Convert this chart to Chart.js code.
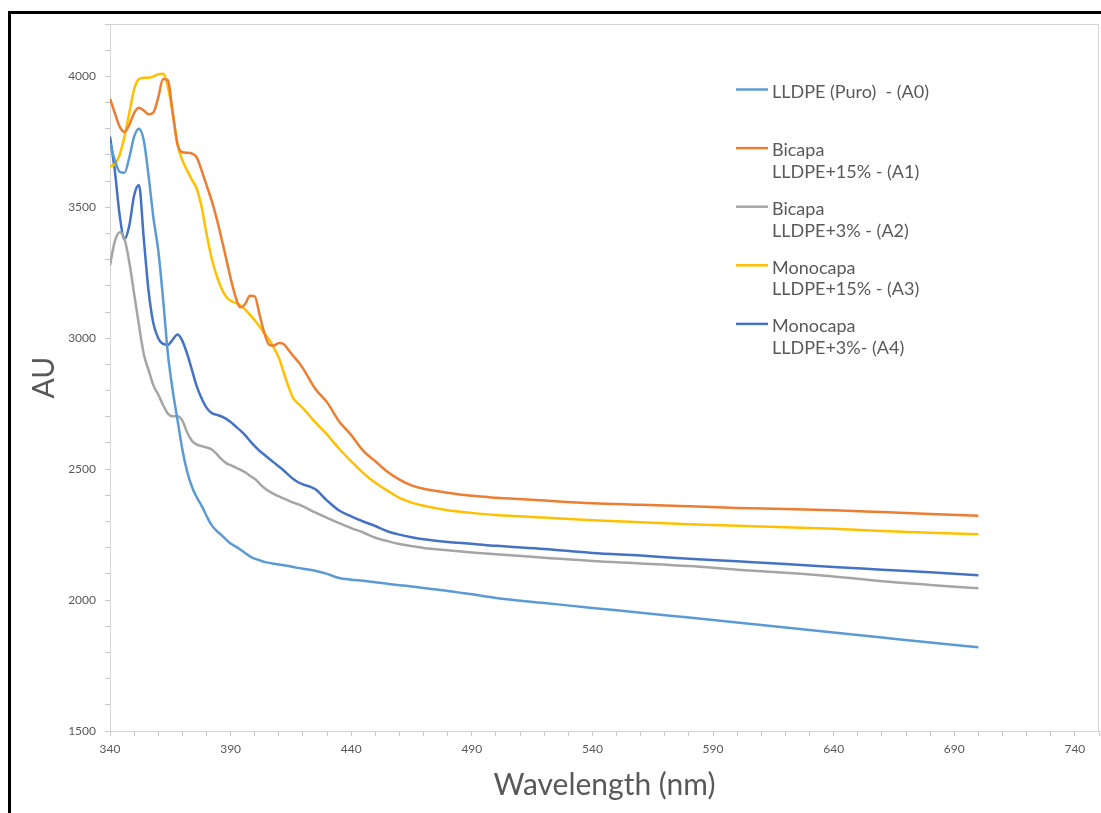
<!DOCTYPE html>
<html>
<head>
<meta charset="utf-8">
<script src="https://cdn.jsdelivr.net/npm/chart.js@4.4.1/dist/chart.umd.min.js"></script>
<style>
    html, body { margin: 0; padding: 0; background: #fff; overflow: hidden; }
    #frame {
        position: absolute; left: 8px; top: 11px; width: 3000px; height: 3000px;
        border-top: 3px solid #000; border-left: 3px solid #000;
    }
    #chart { position: absolute; left: 0; top: 0; }
</style>
</head>
<body>
<div id="frame"></div>
<canvas id="chart" width="1101" height="813"></canvas>
<script>
const wavelengths = [
    340, 342, 344, 346, 348, 350, 352, 354, 356, 358,
    360, 362, 364, 366, 368, 370, 372, 374, 376, 378,
    380, 382, 384, 386, 388, 390, 392, 394, 396, 398,
    400, 402, 404, 406, 408, 410, 412, 414, 416, 418,
    420, 425, 430, 435, 440, 445, 450, 455, 460, 465,
    470, 480, 490, 500, 520, 540, 560, 580, 600, 620,
    640, 660, 680, 700
];

// LLDPE (Puro) - (A0)
const a0 = [
    3745, 3680, 3635, 3632, 3690, 3770, 3800, 3755, 3620, 3460,
    3336, 3150, 2940, 2800, 2687, 2575, 2490, 2432, 2392, 2360,
    2322, 2288, 2266, 2250, 2232, 2216, 2205, 2193, 2180, 2167,
    2158, 2152, 2146, 2142, 2139, 2136, 2133, 2130, 2126, 2123,
    2120, 2112, 2100, 2084, 2078, 2074, 2068, 2062, 2057, 2052,
    2046, 2035, 2022, 2008, 1989, 1970, 1952, 1933, 1914, 1895,
    1876, 1857, 1838, 1820
];

// Bicapa LLDPE+15% - (A1)
const a1 = [
    3915, 3860, 3808, 3788, 3815, 3860, 3880, 3870, 3855, 3862,
    3920, 3990, 3985, 3860, 3740, 3710, 3708, 3705, 3690, 3640,
    3585, 3530, 3465, 3390, 3310, 3230, 3160, 3118, 3130, 3162,
    3160, 3090, 3020, 2975, 2972, 2982, 2978, 2955, 2932, 2910,
    2885, 2808, 2755, 2682, 2630, 2570, 2530, 2490, 2460, 2438,
    2425, 2410, 2398, 2391, 2380, 2370, 2364, 2358, 2352, 2348,
    2343, 2336, 2329, 2322
];

// Bicapa LLDPE+3% - (A2)
const a2 = [
    3279, 3370, 3405, 3380, 3290, 3170, 3050, 2940, 2878, 2820,
    2785, 2745, 2712, 2702, 2702, 2685, 2640, 2608, 2594, 2588,
    2583, 2576, 2560, 2540, 2524, 2515, 2507, 2498, 2488, 2475,
    2463, 2445, 2428, 2415, 2405, 2396, 2388, 2380, 2372, 2366,
    2358, 2335, 2314, 2294, 2275, 2258, 2238, 2225, 2214, 2206,
    2199, 2190, 2182, 2175, 2162, 2149, 2140, 2130, 2116, 2104,
    2090, 2072, 2058, 2045
];

// Monocapa LLDPE+15% - (A3)
const a3 = [
    3656, 3665, 3700, 3770, 3860, 3950, 3990, 3995, 3995, 4000,
    4008, 4010, 3960, 3860, 3740, 3680, 3640, 3605, 3570, 3500,
    3400, 3310, 3245, 3195, 3160, 3143, 3135, 3126, 3110, 3090,
    3068, 3045, 3018, 2995, 2962, 2925, 2870, 2815, 2770, 2750,
    2732, 2680, 2632, 2578, 2530, 2485, 2448, 2418, 2390, 2372,
    2360, 2343, 2333, 2325, 2315, 2305, 2297, 2290, 2284, 2278,
    2272, 2264, 2257, 2251
];

// Monocapa LLDPE+3%- (A4)
const a4 = [
    3770, 3640, 3470, 3378, 3430, 3545, 3585, 3380, 3180, 3056,
    3000, 2978, 2975, 2995, 3014, 2990, 2940, 2878, 2815, 2770,
    2735, 2715, 2708, 2702, 2693, 2680, 2664, 2648, 2630, 2608,
    2588, 2570, 2555, 2540, 2525, 2510, 2495, 2478, 2462, 2450,
    2442, 2424, 2380, 2342, 2320, 2300, 2283, 2263, 2250, 2240,
    2232, 2222, 2215, 2207, 2195, 2180, 2170, 2158, 2148, 2138,
    2126, 2116, 2106, 2095
];

const seriesLabels = [
    ['LLDPE (Puro)  - (A0)'],
    ['Bicapa', 'LLDPE+15% - (A1)'],
    ['Bicapa', 'LLDPE+3% - (A2)'],
    ['Monocapa', 'LLDPE+15% - (A3)'],
    ['Monocapa', 'LLDPE+3%- (A4)']
];
const seriesColors = ['#5B9BD5', '#ED7D31', '#A5A5A5', '#FFC000', '#4472C4'];
const allSeries = [a0, a1, a2, a3, a4];

const textColor = '#595959';
const axisColor = '#C8C8C8';
const uiFont = 'Lato, "Open Sans", sans-serif';

// gray box round the plot area, like the Excel plot border
const plotBorder = {
    id: 'plotBorder',
    beforeDatasetsDraw(chart) {
        const { ctx, chartArea } = chart;
        ctx.save();
        ctx.strokeStyle = '#D4D4D4';
        ctx.lineWidth = 1;
        ctx.strokeRect(chartArea.left + 0.5, chartArea.top + 0.5,
            chartArea.right - chartArea.left - 1, chartArea.bottom - chartArea.top);
        ctx.restore();
    }
};

// legend with two-line entries in the upper right of the plot
const sideLegend = {
    id: 'sideLegend',
    afterDraw(chart) {
        const { ctx } = chart;
        const x0 = 736;
        const y0 = 92;
        ctx.save();
        ctx.font = '18px ' + uiFont;
        ctx.textBaseline = 'middle';
        ctx.fillStyle = textColor;
        chart.data.datasets.forEach((ds, i) => {
            const y = y0 + i * 58.6;
            ctx.strokeStyle = ds.borderColor;
            ctx.lineWidth = 2.5;
            ctx.beginPath();
            ctx.moveTo(x0, y - 2.5);
            ctx.lineTo(x0 + 32, y - 2.5);
            ctx.stroke();
            seriesLabels[i].forEach((line, j) => {
                ctx.fillText(line, x0 + 36, y + j * 21.5);
            });
        });
        ctx.restore();
    }
};

new Chart(document.getElementById('chart'), {
    type: 'line',
    data: {
        datasets: allSeries.map((vals, i) => ({
            label: seriesLabels[i].join(' '),
            data: wavelengths.map((w, k) => ({ x: w, y: vals[k] })),
            borderColor: seriesColors[i],
            backgroundColor: seriesColors[i],
            borderWidth: 2.5,
            pointRadius: 0,
            cubicInterpolationMode: 'monotone',
            fill: false
        }))
    },
    options: {
        responsive: false,
        animation: false,
        layout: { padding: { top: 24, right: 2, left: 0, bottom: 0 } },
        plugins: {
            legend: { display: false },
            tooltip: { enabled: false }
        },
        scales: {
            x: {
                type: 'linear',
                min: 340,
                max: 750,
                afterFit: s => {
                    s.height = 82;
                    s.paddingRight = 0;
                    s.paddingLeft = 0;
                },
                border: { color: axisColor, width: 1 },
                grid: { drawOnChartArea: false, color: axisColor, tickLength: 5 },
                ticks: {
                    stepSize: 10,
                    autoSkip: false,
                    maxRotation: 0,
                    padding: 6,
                    color: textColor,
                    font: { family: uiFont, size: 12 },
                    callback: v => ((v - 340) % 50 === 0 ? String(v) : '')
                },
                title: {
                    display: true,
                    text: 'Wavelength (nm)',
                    color: textColor,
                    font: { family: uiFont, size: 30 },
                    padding: { top: 0, bottom: 10 }
                }
            },
            y: {
                min: 1500,
                max: 4200,
                afterFit: s => { s.width = 110; },
                border: { color: axisColor, width: 1 },
                grid: { drawOnChartArea: false, color: axisColor, tickLength: 5 },
                ticks: {
                    stepSize: 100,
                    autoSkip: false,
                    padding: 9,
                    color: textColor,
                    font: { family: uiFont, size: 12 },
                    callback: v => (v % 500 === 0 ? String(v) : '')
                },
                title: {
                    display: true,
                    text: 'AU',
                    color: textColor,
                    font: { family: uiFont, size: 30 },
                    padding: { top: 26, bottom: 0 }
                }
            }
        }
    },
    plugins: [plotBorder, sideLegend]
});
</script>
</body>
</html>
